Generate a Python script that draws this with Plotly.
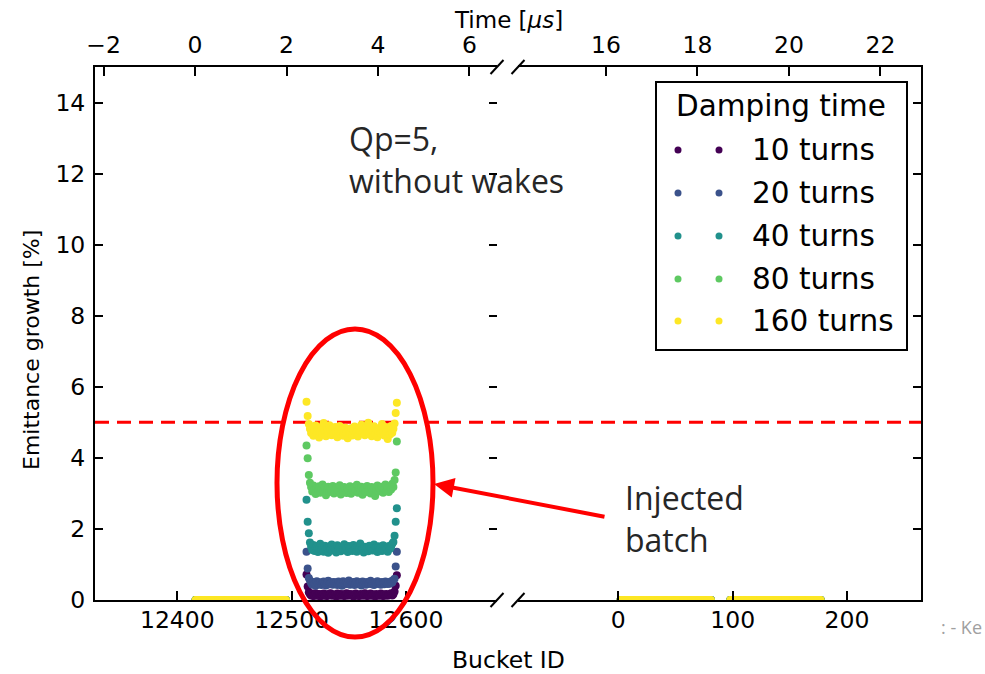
import plotly.graph_objects as go

# ---------------- data ----------------
damping_labels = ["10 turns", "20 turns", "40 turns", "80 turns", "160 turns"]
series_colors = ["#440154", "#3b528b", "#21918c", "#5ec962", "#fde725"]

injected_buckets = list(range(12513, 12593))
circ_left_buckets = list(range(12416, 12496))
circ_right_buckets_a = list(range(2, 82))
circ_right_buckets_b = list(range(98, 178))

circulating_growth = [
    0.0, 0.0, 0.0, 0.0, 0.0, 0.0, 0.0, 0.0, 0.0, 0.0, 0.0, 0.0, 0.0, 0.0, 0.0, 0.0, 0.0, 0.0, 0.0, 0.0,
    0.0, 0.0, 0.0, 0.0, 0.0, 0.0, 0.0, 0.0, 0.0, 0.0, 0.0, 0.0, 0.0, 0.0, 0.0, 0.0, 0.0, 0.0, 0.0, 0.0,
    0.0, 0.0, 0.0, 0.0, 0.0, 0.0, 0.0, 0.0, 0.0, 0.0, 0.0, 0.0, 0.0, 0.0, 0.0, 0.0, 0.0, 0.0, 0.0, 0.0,
    0.0, 0.0, 0.0, 0.0, 0.0, 0.0, 0.0, 0.0, 0.0, 0.0, 0.0, 0.0, 0.0, 0.0, 0.0, 0.0, 0.0, 0.0, 0.0, 0.0,
]

growth_10 = [
    0.72, 0.38,
    0.22, 0.16, 0.13, 0.18, 0.11, 0.15, 0.19, 0.12, 0.14, 0.17, 0.10, 0.16, 0.13, 0.18, 0.12, 0.15, 0.11, 0.17, 0.14, 0.19,
    0.12, 0.16, 0.13, 0.15, 0.10, 0.18, 0.14, 0.12, 0.17, 0.13, 0.16, 0.11, 0.15, 0.19, 0.12, 0.14, 0.17, 0.13, 0.16, 0.10,
    0.15, 0.18, 0.12, 0.14, 0.11, 0.17, 0.13, 0.16, 0.12, 0.19, 0.14, 0.11, 0.15, 0.13, 0.18, 0.12, 0.16, 0.14, 0.10, 0.17,
    0.13, 0.15, 0.12, 0.18, 0.14, 0.11, 0.16, 0.13, 0.17, 0.12, 0.15, 0.14, 0.19, 0.13, 0.16, 0.24,
    0.40, 0.70,
]
growth_20 = [
    1.36, 0.89, 0.62,
    0.55, 0.48, 0.43, 0.51, 0.46, 0.40, 0.53, 0.47, 0.44, 0.50, 0.42, 0.49, 0.52, 0.45, 0.41, 0.48, 0.54, 0.44, 0.47, 0.50,
    0.43, 0.51, 0.46, 0.49, 0.42, 0.52, 0.45, 0.48, 0.40, 0.53, 0.47, 0.44, 0.50, 0.46, 0.55, 0.43, 0.49, 0.45, 0.51, 0.42,
    0.48, 0.53, 0.44, 0.47, 0.50, 0.41, 0.52, 0.46, 0.49, 0.43, 0.51, 0.45, 0.48, 0.54, 0.44, 0.47, 0.42, 0.50, 0.46, 0.53,
    0.45, 0.49, 0.43, 0.51, 0.47, 0.44, 0.52, 0.48, 0.45, 0.50, 0.46, 0.53, 0.49, 0.56,
    0.60, 0.94, 1.36,
]
growth_40 = [
    2.82, 2.20, 1.88,
    1.62, 1.50, 1.41, 1.55, 1.38, 1.47, 1.52, 1.35, 1.44, 1.58, 1.40, 1.49, 1.36, 1.53, 1.43, 1.46, 1.33, 1.51, 1.42, 1.56,
    1.39, 1.48, 1.45, 1.34, 1.54, 1.41, 1.50, 1.37, 1.47, 1.43, 1.57, 1.40, 1.46, 1.35, 1.52, 1.44, 1.49, 1.38, 1.55, 1.42,
    1.47, 1.36, 1.51, 1.43, 1.59, 1.40, 1.45, 1.34, 1.50, 1.41, 1.48, 1.37, 1.53, 1.44, 1.46, 1.39, 1.56, 1.42, 1.49, 1.35,
    1.51, 1.43, 1.47, 1.38, 1.54, 1.41, 1.48, 1.45, 1.36, 1.52, 1.44, 1.50, 1.58, 1.63,
    1.81, 2.20, 2.58,
]
growth_80 = [
    4.35, 3.99, 3.52,
    3.30, 3.18, 3.05, 3.22, 3.10, 2.98, 3.15, 3.08, 3.20, 3.02, 3.13, 3.25, 3.06, 3.17, 2.95, 3.11, 3.19, 3.04, 3.14, 3.07,
    3.21, 3.00, 3.12, 3.16, 3.03, 3.09, 3.23, 2.97, 3.13, 3.06, 3.18, 3.10, 3.01, 3.15, 3.08, 3.20, 2.99, 3.12, 3.05, 3.17,
    3.09, 3.24, 3.02, 3.14, 3.07, 3.19, 2.96, 3.11, 3.16, 3.04, 3.21, 3.08, 3.13, 3.00, 3.18, 3.06, 3.15, 2.93, 3.10, 3.22,
    3.05, 3.14, 3.09, 3.19, 3.02, 3.12, 3.25, 3.07, 3.16, 3.04, 3.20, 3.11, 3.27, 3.18,
    3.38, 3.59, 4.46,
]
growth_160 = [
    5.58, 5.18,
    4.95, 4.82, 4.70, 4.88, 4.62, 4.79, 4.91, 4.68, 4.84, 4.57, 4.73, 4.86, 4.66, 4.98, 4.75, 4.61, 4.83, 4.70, 4.92, 4.78,
    4.64, 4.81, 4.69, 4.87, 4.73, 4.58, 4.76, 4.90, 4.67, 4.80, 4.62, 4.74, 4.85, 4.71, 4.55, 4.79, 4.68, 4.83, 4.63, 4.77,
    4.88, 4.66, 4.72, 4.60, 4.81, 4.74, 4.93, 4.69, 4.78, 4.64, 4.86, 4.73, 4.99, 4.70, 4.82, 4.61, 4.76, 4.89, 4.67, 4.80,
    4.58, 4.75, 4.84, 4.69, 4.95, 4.72, 4.63, 4.87, 4.74, 4.53, 4.79, 4.66, 4.90, 4.71, 4.82, 4.97,
    5.26, 5.55,
]
injected_growth = [growth_10, growth_20, growth_40, growth_80, growth_160]

threshold_pct = 5.0

left_bucket_range = [12328, 12679.6]
right_bucket_range = [-87.7, 264.7]
bucket_spacing_us = 0.025
left_time_zero_bucket = 12415.5
right_time_ref_bucket = -10.76
right_time_ref_us = 16.0
y_range = [0, 15]
y_ticks = [0, 2, 4, 6, 8, 10, 12, 14]


def left_time(b):
    return (b - left_time_zero_bucket) * bucket_spacing_us


def right_time(b):
    return right_time_ref_us + (b - right_time_ref_bucket) * bucket_spacing_us


# ---------------- layout geometry ----------------
W, H = 985, 674
ML, MR, MT, MB = 95, 64, 67, 74
PW, PH = W - ML - MR, H - MT - MB


def px(x):
    return (x - ML) / PW


def py(y):
    return (H - MB - y) / PH


left_dom = [0, px(497)]
right_dom = [px(518), 1]

FONT = "DejaVu Sans"
SLIDE_FONT = "Open Sans"
fig = go.Figure()

for lab, col, vals in zip(damping_labels, series_colors, injected_growth):
    xl = circ_left_buckets + injected_buckets
    yl = circulating_growth + vals
    fig.add_trace(go.Scatter(x=xl, y=yl, mode="markers", name=lab, xaxis="x", yaxis="y",
                             marker=dict(color=col, size=8, line=dict(width=0)),
                             showlegend=False))
    xr = circ_right_buckets_a + circ_right_buckets_b
    yr = circulating_growth + circulating_growth
    fig.add_trace(go.Scatter(x=xr, y=yr, mode="markers", name=lab, xaxis="x2", yaxis="y2",
                             marker=dict(color=col, size=8, line=dict(width=0)),
                             showlegend=False))

# invisible traces to register the time (top) axes and the inner tick axis
fig.add_trace(go.Scatter(x=[left_time(b) for b in injected_buckets], y=growth_160, mode="markers",
                         marker=dict(opacity=0), xaxis="x3", yaxis="y", showlegend=False, hoverinfo="skip"))
fig.add_trace(go.Scatter(x=[right_time(b) for b in circ_right_buckets_a], y=circulating_growth, mode="markers",
                         marker=dict(opacity=0), xaxis="x4", yaxis="y2", showlegend=False, hoverinfo="skip"))
fig.add_trace(go.Scatter(x=injected_buckets, y=growth_160, mode="markers",
                         marker=dict(opacity=0), xaxis="x", yaxis="y3", showlegend=False, hoverinfo="skip"))

tickfont = dict(family=FONT, size=23.5, color="black")
common_x = dict(showgrid=False, zeroline=False, ticks="inside", ticklen=9, tickwidth=1.5,
                tickcolor="black", showline=True, linecolor="black", linewidth=2,
                tickfont=tickfont)
common_y = dict(showgrid=False, zeroline=False, ticks="inside", ticklen=8, tickwidth=1.5,
                tickcolor="black", range=y_range, tickvals=y_ticks, tickfont=tickfont)

fig.update_layout(
    width=W, height=H,
    margin=dict(l=ML, r=MR, t=MT, b=MB),
    paper_bgcolor="white", plot_bgcolor="rgba(0,0,0,0)",
    font=dict(family=FONT, color="black"),
    xaxis=dict(domain=left_dom, range=left_bucket_range, dtick=100, tickformat="d",
               anchor="y", ticklabelstandoff=-2, **common_x),
    xaxis2=dict(domain=right_dom, range=right_bucket_range, dtick=100, tickformat="d",
                anchor="y2", ticklabelstandoff=-2, **common_x),
    xaxis3=dict(overlaying="x", side="top", anchor="y",
                range=[left_time(left_bucket_range[0]), left_time(left_bucket_range[1])],
                dtick=2, ticklabelstandoff=3, **common_x),
    xaxis4=dict(overlaying="x2", side="top", anchor="y2",
                range=[right_time(right_bucket_range[0]), right_time(right_bucket_range[1])],
                dtick=2, ticklabelstandoff=3, **common_x),
    yaxis=dict(anchor="x", side="left", showline=True, linecolor="black", linewidth=2,
               ticklabelstandoff=3, **common_y),
    yaxis2=dict(anchor="x2", side="right", showline=True, linecolor="black", linewidth=2,
                showticklabels=False, **common_y),
    yaxis3=dict(overlaying="y", anchor="x", side="right", showline=False,
                showticklabels=False, **common_y),
)

shapes = []
# threshold line
shapes.append(dict(type="line", xref="paper", yref="y", x0=0, x1=1, y0=threshold_pct, y1=threshold_pct,
                   line=dict(color="#ff0000", width=3, dash="14px,8px"), layer="below"))
# break marks
for xe in (left_dom[1], right_dom[0]):
    for ye in (0, 1):
        shapes.append(dict(type="line", xref="paper", yref="paper", xsizemode="pixel", ysizemode="pixel",
                           xanchor=xe, yanchor=ye, x0=-6.5, x1=6.5, y0=-7, y1=7,
                           line=dict(color="black", width=2)))
# highlight ellipse
shapes.append(dict(type="circle", xref="paper", yref="paper", x0=px(277), x1=px(433), y0=py(637), y1=py(329),
                   line=dict(color="#ff0000", width=5), layer="above"))
# legend box
shapes.append(dict(type="rect", xref="paper", yref="paper", x0=px(656), x1=px(907), y0=py(350), y1=py(82),
                   line=dict(color="black", width=2), fillcolor="white", layer="above"))

annotations = []
annotations.append(dict(xref="paper", yref="paper", x=px(781), y=py(106), text="Damping time",
                        showarrow=False, font=dict(family=FONT, size=29.5, color="black"),
                        xanchor="center", yanchor="middle"))
entry_y = [150, 193, 236, 279, 321]
for lab, col, ey in zip(damping_labels, series_colors, entry_y):
    for dx in (678, 719):
        shapes.append(dict(type="circle", xref="paper", yref="paper", xsizemode="pixel", ysizemode="pixel",
                           xanchor=px(dx), yanchor=py(ey), x0=-3.5, x1=3.5, y0=-3.5, y1=3.5,
                           fillcolor=col, line=dict(width=0), layer="above"))
    annotations.append(dict(xref="paper", yref="paper", x=px(750), y=py(ey), text=lab, showarrow=False,
                            font=dict(family=FONT, size=29.5, color="black"), xanchor="left", yanchor="middle"))

# axis titles
annotations.append(dict(xref="paper", yref="paper", x=px(508), y=py(20), text="Time [<i>μs</i>]",
                        showarrow=False, font=dict(family=FONT, size=23, color="black"),
                        xanchor="center", yanchor="middle"))
annotations.append(dict(xref="paper", yref="paper", x=px(508), y=py(660), text="Bucket ID",
                        showarrow=False, font=dict(family=FONT, size=23.5, color="black"),
                        xanchor="center", yanchor="middle"))
annotations.append(dict(xref="paper", yref="paper", x=px(31), y=py(350), text="Emittance growth [%]",
                        showarrow=False, textangle=-90, font=dict(family=FONT, size=22, color="black"),
                        xanchor="center", yanchor="middle"))
# slide annotations
annotations.append(dict(xref="paper", yref="paper", x=px(347), y=py(159), text="Qp=5,<br>without wakes",
                        showarrow=False, align="left", font=dict(family=SLIDE_FONT, size=32, color="#262626"),
                        xanchor="left", yanchor="middle"))
annotations.append(dict(xref="paper", yref="paper", x=px(623), y=py(518), text="Injected<br>batch",
                        showarrow=False, align="left", font=dict(family=SLIDE_FONT, size=32, color="#262626"),
                        xanchor="left", yanchor="middle"))
annotations.append(dict(xref="paper", yref="paper", x=px(434), y=py(484), text="", showarrow=True,
                        ax=172, ay=33, arrowcolor="#ff0000", arrowwidth=4, arrowhead=2, arrowsize=1))
annotations.append(dict(xref="paper", yref="paper", x=px(984), y=py(627), text=": - Ke", showarrow=False,
                        font=dict(family=SLIDE_FONT, size=18, color="#a0a0a0"), xanchor="right", yanchor="middle"))

fig.update_layout(shapes=shapes, annotations=annotations)
fig.write_html("out.html")
